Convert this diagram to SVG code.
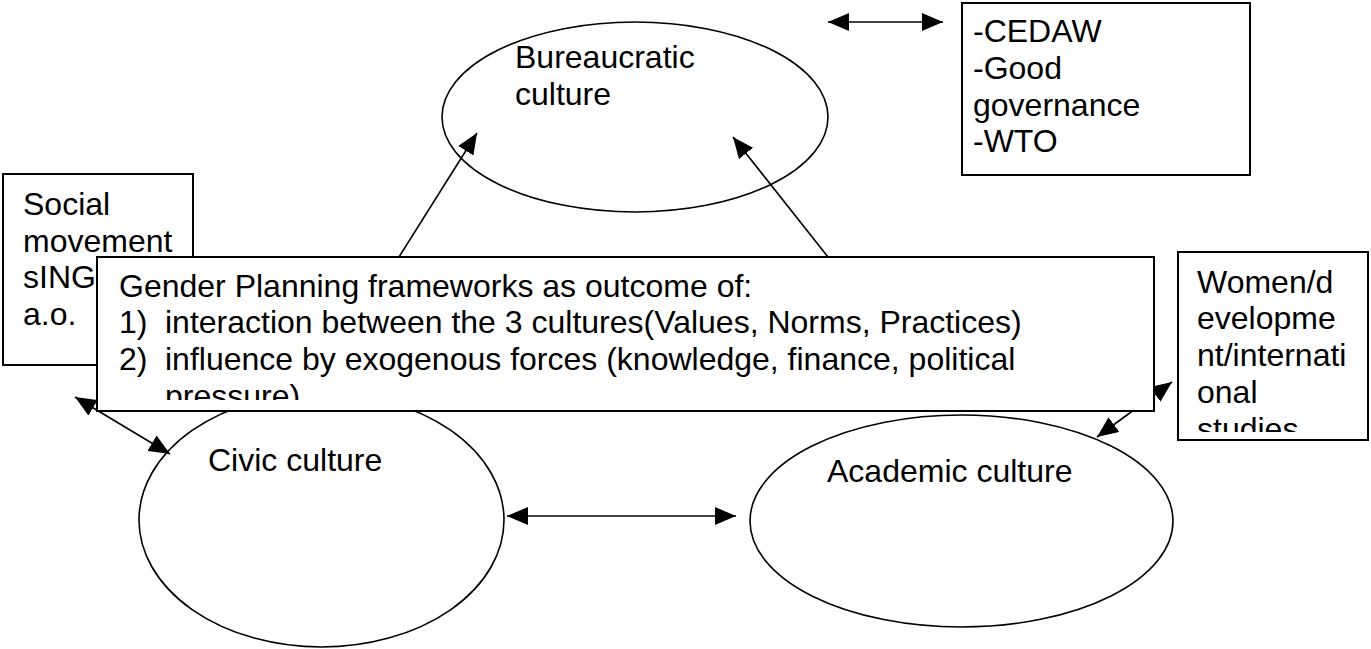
<svg xmlns="http://www.w3.org/2000/svg" width="1371" height="649" viewBox="0 0 1371 649">
<style>
.t{font-family:"Liberation Sans",Arial,sans-serif;font-size:32px;fill:#000}
.box{fill:#fff;stroke:#000;stroke-width:2}
.ell{fill:#fff;stroke:#000;stroke-width:1.6}
.ln{fill:none;stroke:#000;stroke-width:1.6}
</style>
<defs>
<marker id="ah" markerUnits="userSpaceOnUse" markerWidth="21" markerHeight="18" refX="21" refY="9" orient="auto-start-reverse" viewBox="0 0 21 18">
<path d="M0,0 L21,9 L0,18 z" fill="#000"/>
</marker>
<clipPath id="clipMain"><rect x="97" y="257" width="1057" height="143"/></clipPath>
<clipPath id="clipWomen"><rect x="1178" y="252" width="190" height="180"/></clipPath>
</defs>
<rect width="1371" height="649" fill="#fff"/>

<g id="bureaucratic">
<ellipse class="ell" cx="635" cy="117" rx="193" ry="95"/>
<text class="t" x="515" y="68">Bureaucratic</text>
<text class="t" x="515" y="105">culture</text>
</g>

<g id="civic">
<ellipse class="ell" cx="321.5" cy="520" rx="182.5" ry="127"/>
<text class="t" x="208" y="471">Civic culture</text>
</g>

<g id="academic">
<ellipse class="ell" cx="961.5" cy="521" rx="211.5" ry="106"/>
<text class="t" x="827" y="482">Academic culture</text>
</g>

<g id="social">
<rect class="box" x="3" y="174" width="190" height="191"/>
<text class="t" x="23" y="215">Social</text>
<text class="t" x="23" y="252">movement</text>
<text class="t" x="23" y="288">sING</text>
<text class="t" x="23" y="325">a.o.</text>
</g>

<g id="connectors">
<line class="ln" x1="399" y1="257" x2="477" y2="133" marker-end="url(#ah)"/>
<line class="ln" x1="828" y1="257" x2="733" y2="137" marker-end="url(#ah)"/>
<line class="ln" x1="828" y1="22" x2="943" y2="22" marker-start="url(#ah)" marker-end="url(#ah)"/>
<line class="ln" x1="75" y1="397" x2="170" y2="454" marker-start="url(#ah)" marker-end="url(#ah)"/>
<line class="ln" x1="507" y1="516" x2="736" y2="516" marker-start="url(#ah)" marker-end="url(#ah)"/>
<line class="ln" x1="1097" y1="437" x2="1172" y2="382" marker-start="url(#ah)" marker-end="url(#ah)"/>
</g>

<g id="frameworks">
<rect class="box" x="97" y="257" width="1057" height="154"/>
<g clip-path="url(#clipMain)">
<text class="t" x="119" y="297">Gender Planning frameworks as outcome of:</text>
<text class="t" x="119" y="333">1)</text>
<text class="t" x="165" y="333">interaction between the 3 cultures(Values, Norms, Practices)</text>
<text class="t" x="119" y="370">2)</text>
<text class="t" x="165" y="370">influence by exogenous forces (knowledge, finance, political</text>
<text class="t" x="165" y="407">pressure)</text>
</g>
</g>

<g id="international">
<rect class="box" x="962" y="3" width="288" height="172"/>
<text class="t" x="973" y="42">-CEDAW</text>
<text class="t" x="973" y="79">-Good</text>
<text class="t" x="973" y="116">governance</text>
<text class="t" x="973" y="152">-WTO</text>
</g>

<g id="women">
<rect class="box" x="1178" y="252" width="190" height="188"/>
<g clip-path="url(#clipWomen)">
<text class="t" x="1197" y="293">Women/d</text>
<text class="t" x="1197" y="329">evelopme</text>
<text class="t" x="1197" y="366">nt/internati</text>
<text class="t" x="1197" y="403">onal</text>
<text class="t" x="1197" y="440">studies</text>
</g>
</g>
</svg>
